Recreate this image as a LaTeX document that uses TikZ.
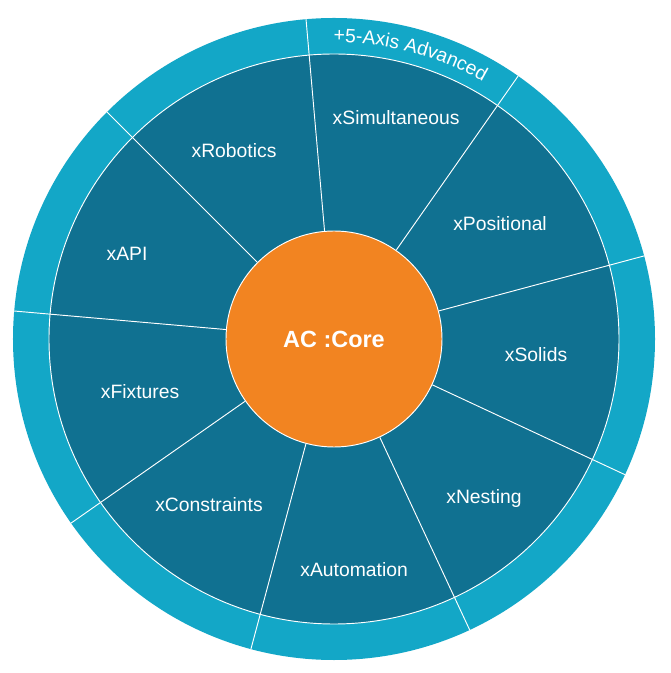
\documentclass[tikz,border=0pt]{standalone}
\usepackage{fontspec}
\setmainfont{Liberation Sans}
\usepackage{xcolor}
\usetikzlibrary{decorations.text}

\definecolor{ringblue}{RGB}{19,167,199}
\definecolor{segblue}{RGB}{16,113,145}
\definecolor{coreorange}{RGB}{242,132,33}

\begin{document}
\begin{tikzpicture}
\tikzset{
    divider/.style={white, line width=0.8pt},
    seglabel/.style={text=white, font=\fontsize{16.5}{20}\selectfont}
}
\useasboundingbox (-10.02,-10.02) rectangle (10.08,10.17);

% Rings
\fill[ringblue] (0,0) circle (9.63);
\filldraw[fill=segblue, draw=white, line width=0.8pt] (0,0) circle (8.55);

% Core
\node[circle, fill=coreorange, draw=white, line width=0.8pt,
      minimum size=6.48cm, inner sep=0pt] (core) at (0,0){};

% Dividers
\foreach \a in {95,55,...,-225}
    \draw[divider] (core.\a) -- (\a:9.63);

\node[text=white, font=\fontsize{20}{24}\selectfont\bfseries] (corelabel) at (core){AC :Core};

% Segment labels
\node[seglabel] (simul) at (74.3:6.89){xSimultaneous};
\node[seglabel] (posit) at (34.7:6.06){xPositional};
\node[seglabel] (solids) at (-4.5:6.08){xSolids};
\node[seglabel] (nest) at (-46.7:6.56){xNesting};
\node[seglabel] (auto) at (-85:6.93){xAutomation};
\node[seglabel] (constr) at (-127:6.23){xConstraints};
\node[seglabel] (fixt) at (-164.7:6.03){xFixtures};
\node[seglabel] (api) at (157.7:6.71){xAPI};
\node[seglabel] (robot) at (117.9:6.41){xRobotics};

% Ring label
\path[decorate, decoration={text along path, text align=center, text color=white,
    text={|\fontsize{16.5}{20}\selectfont|+5-Axis Advanced}}]
    (95:8.91) arc[start angle=95, end angle=55, radius=8.91];

\end{tikzpicture}
\end{document}
